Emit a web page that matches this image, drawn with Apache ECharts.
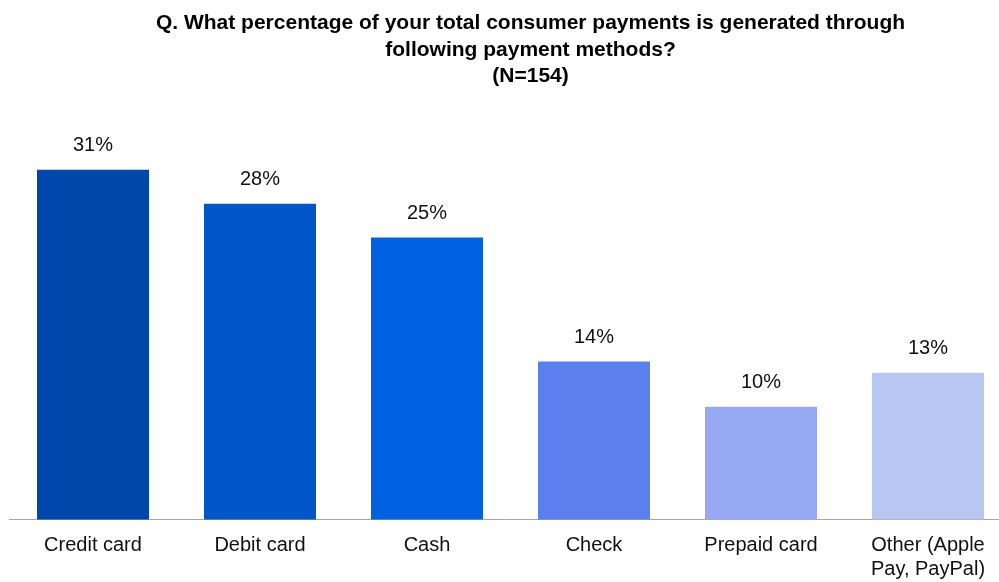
<!DOCTYPE html>
<html>
<head>
<meta charset="utf-8">
<script src="https://cdn.jsdelivr.net/npm/echarts@6/dist/echarts.min.js"></script>
<style>
  html, body { margin: 0; padding: 0; background: #fff; }
  #chart { width: 999px; height: 582px; }
</style>
</head>
<body>
<div id="chart"></div>
<script>
// Share of consumer payments by payment method (N=154)
const categories = ['Credit card', 'Debit card', 'Cash', 'Check', 'Prepaid card', 'Other (Apple\nPay, PayPal)'];
const shares = [31, 28, 25, 14, 10, 13];
const barColors = ['#0047AB', '#0055C9', '#0062E0', '#5B80EE', '#97A9F2', '#BAC6F2'];
const titleLines = [
  'Q. What percentage of your total consumer payments is generated through',
  'following payment methods?',
  '(N=154)'
];

const FONT = '"Liberation Sans", Arial, sans-serif';
const chart = echarts.init(document.getElementById('chart'), null, { renderer: 'canvas' });

chart.setOption({
  animation: false,
  backgroundColor: '#ffffff',
  title: {
    text: titleLines.join('\n'),
    left: 525.5,
    textAlign: 'center',
    top: 5,
    textStyle: {
      fontFamily: FONT,
      fontWeight: 'bold',
      fontSize: 21,
      lineHeight: 26.5,
      color: '#000000'
    }
  },
  grid: {
    left: 9.5,
    width: 1002,
    top: 124.7,
    height: 394.8,
    outerBoundsMode: 'none',
    containLabel: false
  },
  xAxis: {
    type: 'category',
    data: categories,
    axisLine: { show: true, lineStyle: { color: '#A6A6A6', width: 1 } },
    axisTick: { show: false },
    axisLabel: {
      interval: 0,
      margin: 14,
      fontFamily: FONT,
      fontSize: 20,
      lineHeight: 24,
      color: '#111111'
    }
  },
  yAxis: {
    type: 'value',
    min: 0,
    max: 35,
    show: false,
    splitLine: { show: false }
  },
  series: [{
    type: 'bar',
    data: shares.map((v, i) => ({ value: v, itemStyle: { color: barColors[i] } })),
    barWidth: 112,
    label: {
      show: true,
      position: 'top',
      distance: 14,
      formatter: '{c}%',
      fontFamily: FONT,
      fontSize: 20,
      color: '#111111'
    }
  }]
});
</script>
</body>
</html>
